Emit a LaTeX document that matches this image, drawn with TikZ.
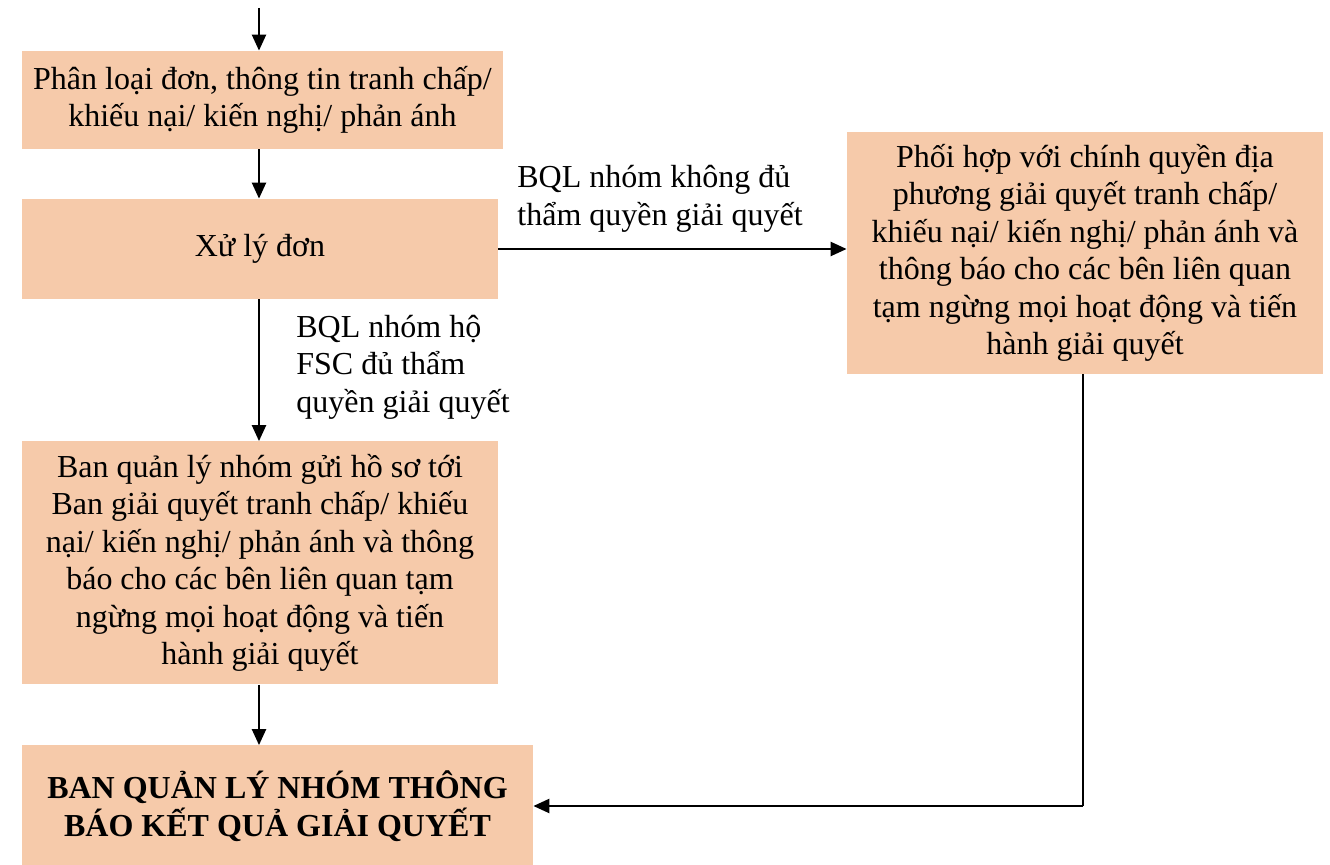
\documentclass[tikz,border=0pt]{standalone}
\usepackage{fontspec}
\setmainfont{Liberation Serif}
\usetikzlibrary{arrows.meta}
\definecolor{peach}{HTML}{F6CAAA}
\begin{document}
\begin{tikzpicture}[x=0.5pt,y=-0.5pt,
  box/.style={fill=peach,draw=none,align=center,inner sep=0pt,
    font=\fontsize{16}{18.75}\selectfont},
  lbl/.style={align=left,anchor=west,inner sep=0pt,
    font=\fontsize{16}{18.75}\selectfont},
  arr/.style={line width=1.2pt,-{Triangle[length=8pt,width=7pt]}},
  ln/.style={line width=1.2pt}]
\useasboundingbox (0,0) rectangle (1330,865);
\node[box,minimum width=240.5pt,minimum height=49pt] (b1) at (262.5,100)
  {Phân loại đơn, thông tin tranh chấp/\\khiếu nại/ kiến nghị/ phản ánh};
\node[box,minimum width=238pt,minimum height=50pt] (b2) at (260,249) {Xử lý đơn};
\node[box,minimum width=238pt,minimum height=121pt] (b3) at (1085,253)
  {Phối hợp với chính quyền địa\\phương giải quyết tranh chấp/\\khiếu nại/ kiến nghị/ phản ánh và\\thông báo cho các bên liên quan\\tạm ngừng mọi hoạt động và tiến\\hành giải quyết};
\node[box,minimum width=238pt,minimum height=121.5pt] (b4) at (260,563)
  {Ban quản lý nhóm gửi hồ sơ tới\\Ban giải quyết tranh chấp/ khiếu\\nại/ kiến nghị/ phản ánh và thông\\báo cho các bên liên quan tạm\\ngừng mọi hoạt động và tiến\\hành giải quyết};
\node[box,minimum width=255.5pt,minimum height=60.5pt,font=\fontsize{16}{18.75}\selectfont\bfseries] (b5) at (277.5,806)
  {BAN QUẢN LÝ NHÓM THÔNG\\BÁO KẾT QUẢ GIẢI QUYẾT};
\coordinate (start) at (259,8);
\coordinate (corner) at (1083,806);
\node[lbl] (l1) at (517,199) {BQL nhóm không đủ\\thẩm quyền giải quyết};
\node[lbl] (l2) at (296,367) {BQL nhóm hộ\\FSC đủ thẩm\\quyền giải quyết};
\draw[arr] (start) -- (start |- b1.north);
\draw[arr] (b1.south -| start) -- (b2.north -| start);
\draw[arr] (b2.east) -- (b2.east -| b3.west);
\draw[arr] (b2.south -| start) -- (b4.north -| start);
\draw[arr] (b4.south -| start) -- (b5.north -| start);
\draw[ln] (b3.south -| corner) -- (corner);
\draw[arr] (corner) -- (b5.east |- corner);
\end{tikzpicture}
\end{document}
